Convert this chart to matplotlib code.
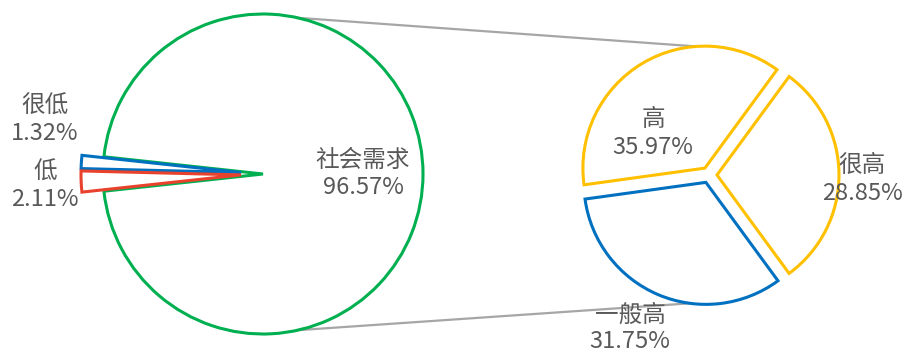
import matplotlib.pyplot as plt
import numpy as np

plt.rcParams['font.family'] = ['Noto Sans CJK SC', 'DejaVu Sans']

# main pie: social demand vs. the two small levels
main_labels = ['社会需求', '很低', '低']
main_values = [96.57, 1.32, 2.11]
main_colors = ['#00B050', '#0070C0', '#E8412C']

# breakdown of 社会需求
sub_labels = ['很高', '高', '一般高']
sub_values = [28.85, 35.97, 31.75]
sub_colors = ['#FFC000', '#FFC000', '#0070C0']

W, H = 908, 353
TXT = '#595959'

fig = plt.figure(figsize=(W / 100, H / 100), dpi=100)
ax = fig.add_axes([0, 0, 1, 1])


def py(y):
    # pixel row -> data y
    return H - y


# left pie
small_half = sum(main_values[1:]) / sum(main_values) * 360 / 2
w_main, _ = ax.pie(main_values, colors=['white'] * 3, startangle=180 + small_half,
                   counterclock=True, center=(263, py(174)), radius=160,
                   explode=[0, 22, 22], frame=True,
                   wedgeprops=dict(linewidth=2.2))
for w, c in zip(w_main, main_colors):
    w.set_edgecolor(c)
    w.set_joinstyle('miter')

# right pie
sub_half = sub_values[0] / sum(sub_values) * 360 / 2
w_sub, _ = ax.pie(sub_values, colors=['white'] * 3, startangle=-sub_half,
                  counterclock=True, center=(709, py(175)), radius=122,
                  explode=[8, 8, 8], frame=True,
                  wedgeprops=dict(linewidth=2.2))
for w, c in zip(w_sub, sub_colors):
    w.set_edgecolor(c)
    w.set_joinstyle('miter')

# connector lines
def on_circle(w, ang):
    cx, cy = w.center
    a = np.deg2rad(ang)
    return cx + w.r * np.cos(a), cy + w.r * np.sin(a)

p1 = on_circle(w_main[0], 77.5)
p2 = on_circle(w_sub[1], 94)
p3 = on_circle(w_main[0], 282.5)
p4 = on_circle(w_sub[2], 262.5)
ax.plot([p1[0], p2[0]], [p1[1], p2[1]], color='#A6A6A6', lw=1.6, zorder=0)
ax.plot([p3[0], p4[0]], [p3[1], p4[1]], color='#A6A6A6', lw=1.6, zorder=0)

# data labels
main_pos = [(363, 160), (45, 106), (45, 172)]
sub_pos = [(862, 166), (653, 120), (630, 315)]
for labs, vals, pos in [(main_labels, main_values, main_pos),
                        (sub_labels, sub_values, sub_pos)]:
    for lab, v, (x, y) in zip(labs, vals, pos):
        ax.text(x, py(y), lab, ha='center', va='center', fontsize=17, color=TXT)
        ax.text(x, py(y + 27), f'{v:.2f}%', ha='center', va='center',
                fontsize=17, color=TXT)

ax.set_xlim(0, W)
ax.set_ylim(0, H)
ax.set_aspect('auto')
ax.axis('off')

fig.savefig('out.png', dpi=100, facecolor='white')
